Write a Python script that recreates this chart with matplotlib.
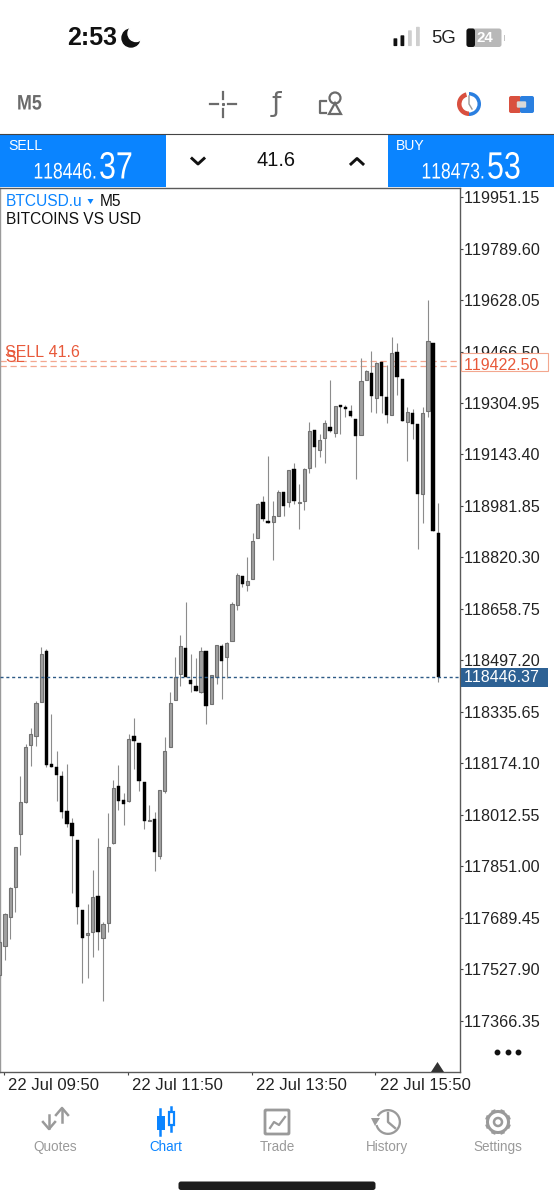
import matplotlib
matplotlib.use("Agg")
import matplotlib.pyplot as plt
from matplotlib.patches import Rectangle, FancyBboxPatch, Circle, Wedge, Polygon
from matplotlib.patheffects import AbstractPathEffect
from matplotlib.transforms import ScaledTranslation, Affine2D
import numpy as np

SANS = ['Liberation Sans', 'DejaVu Sans']
plt.rcParams['font.family'] = SANS
plt.rcParams['text.kerning_factor'] = 6

opens = [117510,117602,117693,117787,117953,118052,118231,118261,118368,118528,118174,118163,118136,118025,117986,117934,117715,117635,117644,117758,117628,117675,117924,118105,118060,118057,118260,118239,118117,117993,118001,117885,118089,118225,118372,118455,118535,118437,118416,118399,118526,118362,118446,118543,118507,118557,118672,118761,118733,118752,118880,118993,118934,118932,118949,119027,118993,119097,118991,118998,119101,119219,119157,119195,119230,119211,119299,119293,119279,119254,119203,119376,119398,119321,119434,119325,119268,119466,119381,119244,119274,119238,119018,119280,119492,118898]
closes = [117615,117701,117785,117911,118052,118226,118266,118364,118516,118170,118163,118137,118022,117984,117947,117725,117628,117643,117754,117644,117671,117913,118096,118055,118048,118252,118245,118118,117993,117997,117895,118090,118213,118363,118444,118542,118446,118424,118403,118528,118354,118451,118546,118496,118551,118674,118765,118738,118746,118873,118988,118941,118927,118949,119027,118983,119096,118998,118993,119098,119216,119168,119188,119243,119217,119296,119291,119286,119263,119200,119375,119404,119328,119431,119328,119268,119463,119387,119248,119278,119239,119018,119274,119501,118902,118446]
highs = [117620,117706,117787,117911,118135,118235,118286,118370,118538,118533,118330,118214,118151,118171,118003,117934,117715,117732,117839,117941,117678,118020,118122,118169,118083,118268,118316,118239,118117,118044,118021,118090,118258,118399,118507,118577,118680,118519,118506,118538,118526,118451,118546,118549,118556,118680,118771,118761,118821,118896,118991,119014,119139,118996,119033,119027,119096,119116,119050,119100,119244,119219,119209,119251,119377,119296,119299,119298,119300,119254,119445,119408,119469,119434,119434,119424,119513,119492,119381,119291,119285,119238,119293,119628,119492,118990]
lows = [117500,117557,117625,117707,117886,118049,118167,118230,118368,118162,118163,118057,118002,117976,117767,117670,117487,117500,117568,117589,117429,117646,117923,118028,117980,118054,118157,118088,117969,117993,117836,117873,118080,118225,118372,118418,118444,118399,118403,118396,118298,118362,118423,118375,118441,118557,118656,118729,118715,118752,118880,118935,118927,118813,118949,118952,118978,118988,118909,118970,119086,119105,119136,119118,119215,119199,119209,119262,119262,119068,119203,119376,119277,119275,119275,119243,119268,119330,119248,119123,119192,118846,118927,119260,118902,118430]

price_ticks = [119951.15,119789.60,119628.05,119466.50,119304.95,119143.40,118981.85,118820.30,118658.75,118497.20,118335.65,118174.10,118012.55,117851.00,117689.45,117527.90,117366.35]
time_positions = [0.8, 24.8, 48.8, 72.8]
time_labels = ['22 Jul 09:50', '22 Jul 11:50', '22 Jul 13:50', '22 Jul 15:50']
current_price = 118446.37
order_price = 119422.50
stop_price = 119436.5

W, H = 554, 1200
fig = plt.figure(figsize=(W / 100, H / 100), dpi=100, facecolor='white')

# --- chart axes
ax = fig.add_axes([0 / W, 1 - 1072 / H, 460 / W, (1072 - 188) / H])
ax.set_xlim(0.03, 89.2)
ax.set_ylim(117206.3, 119979.4)
ax.yaxis.tick_right()
ax.set_yticks(price_ticks)
ax.set_yticklabels([f'{p:.2f}' for p in price_ticks], fontsize=11.6, color='#222222')
ax.tick_params(axis='y', length=2, width=0.8, pad=1.0, color='#444444')
ax.set_xticks(time_positions)
ax.set_xticklabels(time_labels, fontsize=12.0, color='#222222', ha='left')
ax.tick_params(axis='x', length=2.2, width=0.8, pad=1.8, color='#444444')
for lab in ax.get_xticklabels():
    lab.set_transform(lab.get_transform() + ScaledTranslation(3 / 72, 0, fig.dpi_scale_trans))
for s in ax.spines.values():
    s.set_color('#5a5a5a')
    s.set_linewidth(1.0)
ax.spines['left'].set_color('#9a9a9a')

idx = np.arange(len(opens))
op, cl, hi, lo = map(np.array, (opens, closes, highs, lows))
ax.vlines(idx, lo, hi, color='#8c8c8c', lw=0.8, zorder=2)
up = cl >= op
ax.bar(idx[up], (cl - op)[up], bottom=op[up], width=0.6, color='#a0a0a0', edgecolor='#727272', linewidth=0.8, zorder=3)
ax.bar(idx[~up], (op - cl)[~up], bottom=cl[~up], width=0.66, color='#000000', edgecolor='#000000', linewidth=0.3, zorder=3)

ax.axhline(current_price, color='#2d5a85', lw=1.0, ls=(0, (2.2, 2)), zorder=4)
ax.axhline(order_price, color='#f3a78f', lw=0.9, ls=(0, (5, 3)), zorder=1)
ax.axhline(stop_price, color='#f3a78f', lw=0.9, ls=(0, (5, 3)), zorder=1)

# --- interface overlay in pixel coordinates
ui = fig.add_axes([0, 0, 1, 1], zorder=5)
ui.set_xlim(0, W)
ui.set_ylim(H, 0)
ui.axis('off')
ui.patch.set_alpha(0)


class Squeeze(AbstractPathEffect):
    """Narrow a text's glyphs horizontally about its anchor (no condensed font is installed)."""
    def __init__(self, x0, sx):
        super().__init__()
        self.x0, self.sx = x0, sx

    def draw_path(self, renderer, gc, tpath, affine, rgbFace=None):
        aff = affine + Affine2D().translate(-self.x0, 0).scale(self.sx, 1).translate(self.x0, 0)
        renderer.draw_path(gc, tpath, aff, rgbFace)


def T(x, y, s, px, color='#111111', ha='left', va='center', weight='normal', family=SANS, sx=None):
    t = ui.text(x, y, s, fontsize=px * 0.72, color=color, ha=ha, va=va, fontweight=weight, family=family)
    if sx:
        t.set_path_effects([Squeeze(x, sx)])
    return t


BLUE = '#0a84ff'
GRAY = '#6b6b6b'
TAB = '#9a9a9a'

# status bar
T(67, 38, '2:53', 25, color='#111111', weight='bold')
ui.add_patch(Circle((131, 38), 9, color='#111111'))
ui.add_patch(Circle((136, 33.5), 8, color='white'))
for x, h, c in [(393.5, 7, '#111111'), (400.5, 10, '#111111'), (408, 15, '#cfcfcf'), (416, 18.5, '#cfcfcf')]:
    ui.add_patch(FancyBboxPatch((x + 0.7, 46 - h), 2.4, h - 0.6, boxstyle='round,pad=0.7', color=c, lw=0))
T(431, 38.5, '5G', 18.5, color='#222222')
ui.add_patch(FancyBboxPatch((469, 31), 30, 13.5, boxstyle='round,pad=2.5', color='#b8b8b8', lw=0))
ui.add_patch(FancyBboxPatch((469, 31), 3.5, 13.5, boxstyle='round,pad=2.5', color='#111111', lw=0))
ui.add_patch(Rectangle((503.5, 35), 1.5, 6, color='#c4c4c4', lw=0))
T(485, 38.5, '24', 15, color='white', ha='center', weight='bold')

# toolbar
T(17, 104, 'M5', 21, color=GRAY, weight='bold', sx=0.85)
for xs, ys in [((210, 218), (104, 104)), ((228, 236), (104, 104)), ((223, 223), (92, 99)), ((223, 223), (109, 117))]:
    ui.plot(xs, ys, color=GRAY, lw=1.6)
ui.plot([223], [104], 's', color=GRAY, ms=1.2)
T(276, 104, 'ƒ', 27, color=GRAY, ha='center', family=['DejaVu Sans'])
ui.add_patch(Circle((335, 98), 5.5, fill=False, ec=GRAY, lw=1.6))
ui.add_patch(Polygon([[329, 114], [341, 114], [335, 103]], fill=False, ec=GRAY, lw=1.6))
ui.plot([326, 320, 320, 326], [101, 101, 113, 113], color=GRAY, lw=1.6)
ui.add_patch(Wedge((469, 104), 12, 90, 255, width=4.5, color='#d9503f', lw=0))
ui.add_patch(Wedge((469, 104), 12, -90, 90, width=3.5, color='#2a7fe0', lw=0))
ui.plot([469, 469, 472], [96, 104, 109], color='#9a9a9a', lw=1)
ui.add_patch(FancyBboxPatch((511, 98), 8, 13, boxstyle='round,pad=2', color='#d9503f', lw=0))
ui.add_patch(FancyBboxPatch((522, 98), 10, 13, boxstyle='round,pad=2', color='#2a7fe0', lw=0))
ui.add_patch(FancyBboxPatch((518, 102.5), 7, 4, boxstyle='round,pad=1.2', color='#d8d8d8', lw=0))

# trade panel
ui.plot([0, W], [133.5, 133.5], color='#444444', lw=0.8)
ui.add_patch(Rectangle((0, 134), 166, 53, color=BLUE, lw=0))
ui.add_patch(Rectangle((388, 134), 166, 53, color=BLUE, lw=0))
T(8, 146, 'SELL', 14, color='white')
T(396, 146, 'BUY', 14, color='white')
T(97, 178.5, '118446.', 22.5, color='white', ha='right', va='baseline', sx=0.78)
T(99, 178.5, '37', 38, color='white', va='baseline', sx=0.8)
T(485, 178.5, '118473.', 22.5, color='white', ha='right', va='baseline', sx=0.78)
T(487, 178.5, '53', 38, color='white', va='baseline', sx=0.8)
ui.plot([192, 198, 204], [158.5, 164, 158.5], color='#111111', lw=2.1)
ui.plot([351, 357, 363], [164, 158.5, 164], color='#111111', lw=2.1)
T(276, 161, '41.6', 20, ha='center')

# chart captions
T(6, 201, 'BTCUSD.u', 15.5, color=BLUE)
ui.add_patch(Polygon([[87.5, 199], [93.5, 199], [90.5, 204]], color=BLUE, lw=0))
T(100, 201, 'M5', 15.5)
T(6, 220, 'BITCOINS VS USD', 15.5)

# order labels
T(5, 352.5, 'SELL 41.6', 16, color='#e8593a')
T(5, 357, 'SL', 16, color='#e8593a')
ui.add_patch(Rectangle((461, 352.5), 87, 18, facecolor='white', edgecolor='#f3a78f', lw=0.8))
T(464, 366, '119422.50', 16, color='#e8593a')
ui.add_patch(Rectangle((461, 668), 87, 18.5, color='#2d6194', lw=0))
T(464, 677.5, '118446.37', 16, color='white')

# small marks on the chart
ui.add_patch(Polygon([[431, 1072], [444, 1072], [437.5, 1062]], color='#333333', lw=0))
ui.plot([497, 507.5, 518], [1052, 1052, 1052], 'o', color='#111111', ms=3.2)

# tab bar
tab_x = [55, 166, 277, 387, 498]
tab_names = ['Quotes', 'Chart', 'Trade', 'History', 'Settings']
for x, n in zip(tab_x, tab_names):
    T(x, 1147, n, 13.5, color=BLUE if n == 'Chart' else TAB, ha='center')
# quotes icon
ui.plot([49, 49], [1115, 1128], color=TAB, lw=1.8); ui.plot([43, 49, 55], [1122, 1129, 1122], color=TAB, lw=1.8)
ui.plot([62, 62], [1109, 1122], color=TAB, lw=1.8); ui.plot([56, 62, 68], [1115, 1108, 1115], color=TAB, lw=1.8)
# chart icon
ui.plot([160, 160], [1109, 1135], color=BLUE, lw=1.8)
ui.add_patch(Rectangle((157, 1116), 7.5, 14, color=BLUE, lw=0))
ui.plot([171, 171], [1107, 1131], color=BLUE, lw=1.8)
ui.add_patch(Rectangle((168.5, 1112), 5, 13, facecolor='white', edgecolor=BLUE, lw=1.6, zorder=3))
# trade icon
ui.add_patch(FancyBboxPatch((266, 1111), 22, 22, boxstyle='round,pad=1', fill=False, ec=TAB, lw=2))
ui.plot([270, 274, 279, 285], [1128, 1122, 1125, 1117], color=TAB, lw=1.6)
# history icon
ui.add_patch(Wedge((388, 1122), 13, -150, 165, width=2.3, color=TAB, lw=0))
ui.plot([388, 388, 395], [1113, 1122, 1128], color=TAB, lw=1.7)
ui.add_patch(Polygon([[371, 1118], [380, 1118], [375, 1126]], color=TAB, lw=0))
# settings icon
ui.add_patch(Circle((498, 1122), 10.5, fill=False, ec=TAB, lw=2.2))
ui.add_patch(Circle((498, 1122), 4, fill=False, ec=TAB, lw=1.8))
for a in np.deg2rad(np.arange(0, 360, 45) + 22.5):
    ui.plot([498 + 10 * np.cos(a), 498 + 13 * np.cos(a)], [1122 + 10 * np.sin(a), 1122 + 13 * np.sin(a)], color=TAB, lw=3.2, solid_capstyle='butt')
# home indicator
ui.add_patch(FancyBboxPatch((181, 1184), 192, 3.5, boxstyle='round,pad=2.5', color='#1c1c1c', lw=0))

fig.savefig('out.png', dpi=100, facecolor='white')
